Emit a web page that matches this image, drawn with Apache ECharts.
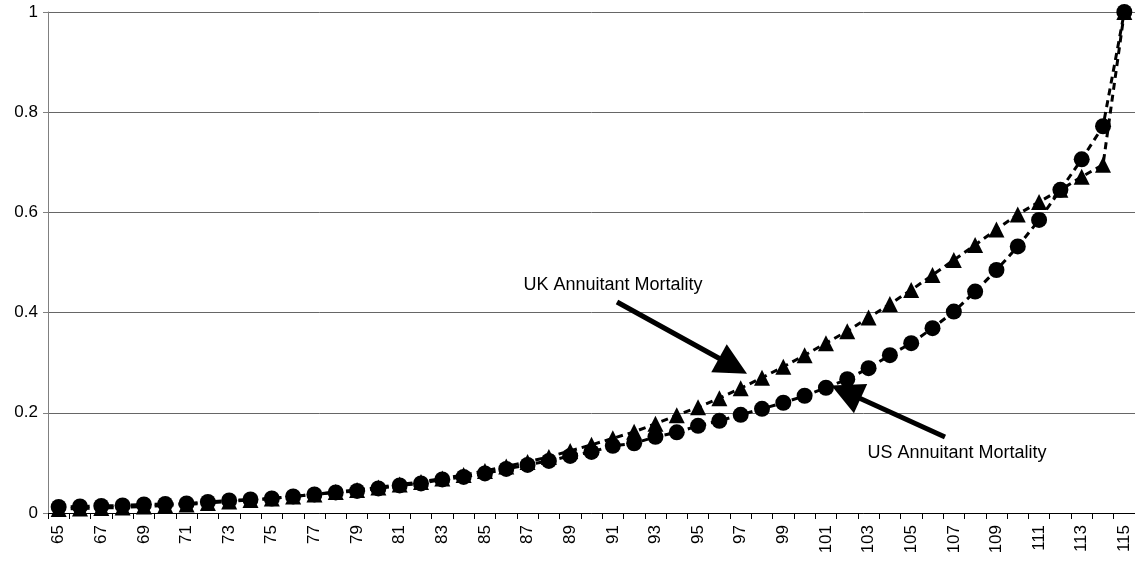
<!DOCTYPE html>
<html>
<head>
<meta charset="utf-8">
<script src="https://cdn.jsdelivr.net/npm/echarts@6/dist/echarts.min.js"></script>
<style>
  html, body { margin: 0; padding: 0; background: #fff; }
  #chart { width: 1135px; height: 563px; }
</style>
</head>
<body>
<div id="chart"></div>
<script>
var ages = [];
for (var a = 65; a <= 115; a++) ages.push(String(a));

var ukMortality = [
    0.008, 0.009, 0.010, 0.011, 0.013, 0.015, 0.017, 0.020, 0.023, 0.026,
    0.029, 0.033, 0.037, 0.042, 0.046, 0.051, 0.057, 0.062, 0.069, 0.076,
    0.084, 0.093, 0.102, 0.112, 0.124, 0.136, 0.149, 0.162, 0.178, 0.195,
    0.211, 0.229, 0.249, 0.270, 0.292, 0.315, 0.339, 0.363, 0.390, 0.417,
    0.445, 0.475, 0.505, 0.535, 0.566, 0.596, 0.621, 0.645, 0.671, 0.695,
    1.0
];

var usMortality = [
    0.012, 0.013, 0.014, 0.015, 0.017, 0.018, 0.019, 0.022, 0.025, 0.027,
    0.029, 0.033, 0.037, 0.041, 0.044, 0.049, 0.055, 0.059, 0.067, 0.072,
    0.079, 0.088, 0.096, 0.104, 0.114, 0.122, 0.134, 0.139, 0.152, 0.161,
    0.174, 0.184, 0.196, 0.208, 0.220, 0.234, 0.250, 0.267, 0.289, 0.315,
    0.339, 0.369, 0.402, 0.442, 0.485, 0.532, 0.585, 0.645, 0.706, 0.772,
    1.0
];

var yTicks = { min: 0, max: 1, interval: 0.2 };

var chart = echarts.init(document.getElementById('chart'));

var arrowStyle = {
    symbol: ['none', 'triangle'],
    symbolSize: [32, 32],
    silent: true,
    label: { show: false },
    lineStyle: { color: '#000', width: 5, type: 'solid' }
};

var option = {
    animation: false,
    textStyle: { fontFamily: 'Liberation Sans' },
    grid: { left: 48, right: 0, top: 12, bottom: 50 },
    xAxis: {
        type: 'category',
        data: ages,
        boundaryGap: true,
        axisLine: { lineStyle: { color: '#000', width: 1 } },
        axisTick: { show: true, interval: 0, length: 6, lineStyle: { color: '#000' } },
        axisLabel: { interval: 1, rotate: 90, color: '#000', fontSize: 17, margin: 12 }
    },
    yAxis: {
        type: 'value',
        min: yTicks.min,
        max: yTicks.max,
        interval: yTicks.interval,
        axisLine: { show: true, lineStyle: { color: '#808080' } },
        axisTick: { show: true, length: 5, lineStyle: { color: '#808080' } },
        axisLabel: { color: '#000', fontSize: 17, margin: 10 },
        splitLine: { lineStyle: { color: '#666', width: 1 } }
    },
    series: [
        {
            name: 'UK Annuitant Mortality',
            type: 'line',
            data: ukMortality,
            symbol: 'triangle',
            showAllSymbol: true,
            symbolSize: 16,
            itemStyle: { color: '#000' },
            lineStyle: { color: '#000', width: 3, type: [7, 5] },
            markLine: Object.assign({}, arrowStyle, {
                data: [[{ x: 617, y: 302 }, { x: 733, y: 366 }]]
            })
        },
        {
            name: 'US Annuitant Mortality',
            type: 'line',
            data: usMortality,
            symbol: 'circle',
            showAllSymbol: true,
            symbolSize: 16,
            itemStyle: { color: '#000' },
            lineStyle: { color: '#000', width: 3, type: [7, 5] },
            markLine: Object.assign({}, arrowStyle, {
                data: [[{ x: 945, y: 437 }, { x: 846, y: 392 }]]
            })
        }
    ],
    graphic: [
        {
            type: 'text',
            x: 613, y: 285,
            style: {
                text: 'UK Annuitant Mortality',
                fill: '#000',
                font: '18px "Liberation Sans"',
                textAlign: 'center',
                textVerticalAlign: 'middle'
            }
        },
        {
            type: 'text',
            x: 957, y: 453,
            style: {
                text: 'US Annuitant Mortality',
                fill: '#000',
                font: '18px "Liberation Sans"',
                textAlign: 'center',
                textVerticalAlign: 'middle'
            }
        }
    ]
};

chart.setOption(option);
</script>
</body>
</html>
